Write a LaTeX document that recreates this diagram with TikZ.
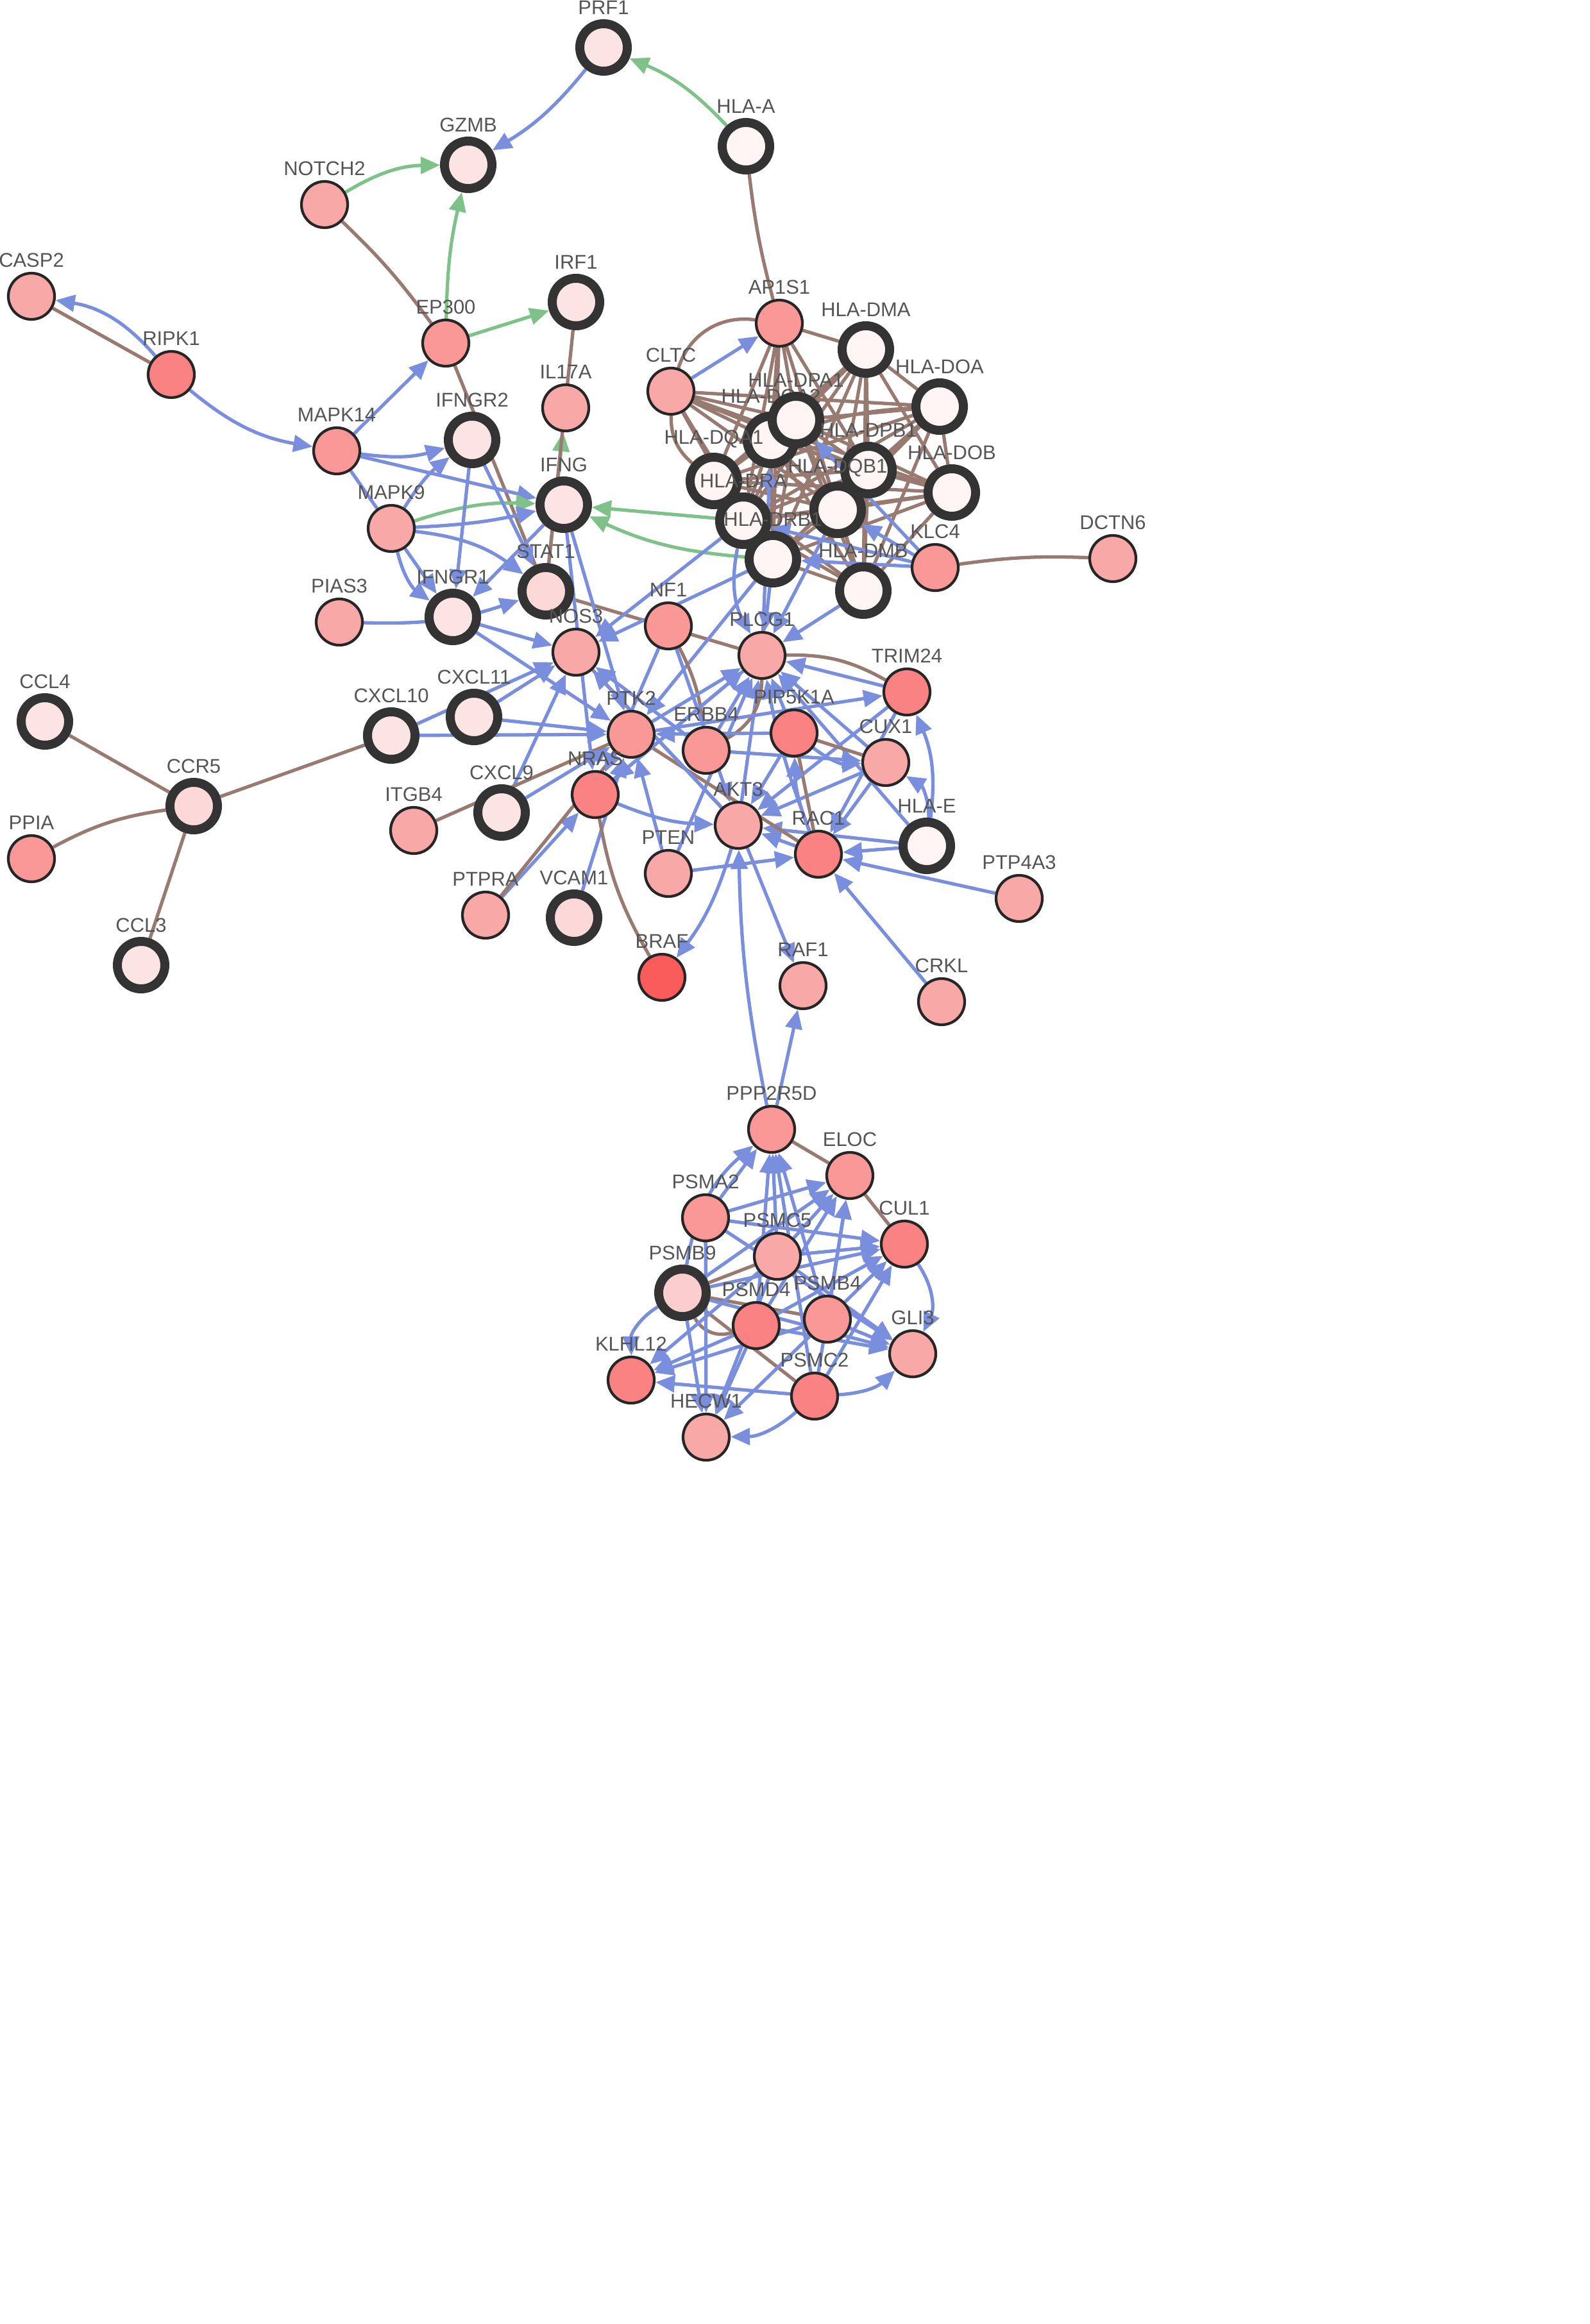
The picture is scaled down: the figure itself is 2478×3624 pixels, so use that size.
\documentclass[tikz,border=0pt]{standalone}
\usepackage{fontspec}
\setmainfont{Liberation Sans}
\usetikzlibrary{arrows.meta,backgrounds}

\definecolor{ringgray}{RGB}{51,51,51}
\definecolor{labgray}{RGB}{85,85,85}
\definecolor{edgeblue}{RGB}{122,142,222}
\definecolor{edgegreen}{RGB}{126,193,137}
\definecolor{edgebrown}{RGB}{152,122,112}
\definecolor{pinkA}{RGB}{249,168,168}
\definecolor{pinkB}{RGB}{250,152,152}
\definecolor{pinkC}{RGB}{250,130,130}
\definecolor{brafred}{RGB}{250,92,92}
\definecolor{paleA}{RGB}{253,228,228}
\definecolor{paleB}{RGB}{255,245,245}
\definecolor{paleC}{RGB}{253,216,216}
\definecolor{paleD}{RGB}{252,205,205}

\tikzset{
  gnode/.style={circle, draw=black!85, line width=1.2pt, minimum size=0.72cm, inner sep=0pt},
  rnode/.style={circle, draw=ringgray, line width=0.14cm, minimum size=0.74cm, inner sep=0pt},
  glab/.style={font=\fontsize{8.8}{9}\selectfont, text=labgray, inner sep=0pt},
  every label/.style={glab},
  blu/.style={draw=edgeblue, line width=1.5pt, -{Triangle[length=0.3cm,width=0.26cm]}},
  grn/.style={draw=edgegreen, line width=1.5pt, -{Triangle[length=0.3cm,width=0.26cm]}},
  brn/.style={draw=edgebrown, line width=1.5pt}
}

\begin{document}
\begin{tikzpicture}[x=0.01cm, y=-0.01cm, label distance=0.065cm]
\useasboundingbox (0,0) rectangle (2478,3624);

% upper part
\node[rnode, fill=paleA, label=above:PRF1] (prf1) at (941,74) {};
\node[rnode, fill=paleB, label=above:HLA-A] (hlaa) at (1163,228) {};
\node[rnode, fill=paleA, label=above:GZMB] (gzmb) at (730,257) {};
\node[gnode, fill=pinkA, label=above:NOTCH2] (notch2) at (506,319) {};
\node[gnode, fill=pinkA, label=above:CASP2] (casp2) at (49,462) {};
\node[rnode, fill=paleA, label=above:IRF1] (irf1) at (898,471) {};
\node[gnode, fill=pinkC, label=above:RIPK1] (ripk1) at (267,584) {};
\node[gnode, fill=pinkB, label=above:EP300] (ep300) at (695,535) {};
\node[gnode, fill=pinkB, label=above:AP1S1] (ap1s1) at (1215,504) {};
\node[rnode, fill=paleB, label=above:HLA-DMA] (hladma) at (1350,545) {};
\node[gnode, fill=pinkA, label=above:CLTC] (cltc) at (1046,610) {};
\node[rnode, fill=paleB, label=above:HLA-DOA] (hladoa) at (1465,634) {};
\node[gnode, fill=pinkA, label=above:IL17A] (il17a) at (882,636) {};
\node[gnode, fill=pinkB, label=above:MAPK14] (mapk14) at (525,703) {};
\node[rnode, fill=paleA, label=above:IFNGR2] (ifngr2) at (736,686) {};
\node[rnode, fill=paleA, label=above:IFNG] (ifng) at (879,787) {};
\node[gnode, fill=pinkA, label=above:MAPK9] (mapk9) at (610,824) {};

% HLA class II group
\node[rnode, fill=paleB, label=above:HLA-DQA2] (hladqa2) at (1202,686) {};
\node[rnode, fill=paleB, label=above:HLA-DPA1] (hladpa1) at (1241,655) {};
\node[rnode, fill=paleB, label=above:HLA-DPB1] (hladpb1) at (1354,733) {};
\node[rnode, fill=paleB, label=above:HLA-DQA1] (hladqa1) at (1113,750) {};
\node[rnode, fill=paleB, label=above:HLA-DRA] (hladra) at (1159,812) {};
\node[rnode, fill=paleB, label=above:HLA-DQB1] (hladqb1) at (1306,795) {};
\node[rnode, fill=paleB, label=above:HLA-DOB] (hladob) at (1484,768) {};
\node[rnode, fill=paleB, label=above:HLA-DRB1] (hladrb1) at (1205,872) {};
\node[rnode, fill=paleB, label=above:HLA-DMB] (hladmb) at (1346,921) {};
\node[gnode, fill=pinkB, label=above:KLC4] (klc4) at (1458,885) {};
\node[gnode, fill=pinkA, label=above:DCTN6] (dctn6) at (1735,871) {};

% middle part
\node[rnode, fill=paleC, label=above:STAT1] (stat1) at (851,922) {};
\node[rnode, fill=paleA, label=above:IFNGR1] (ifngr1) at (706,962) {};
\node[gnode, fill=pinkA, label=above:PIAS3] (pias3) at (529,970) {};
\node[gnode, fill=pinkA, label=above:NOS3] (nos3) at (898,1017) {};
\node[gnode, fill=pinkB, label=above:NF1] (nf1) at (1042,976) {};
\node[gnode, fill=pinkA, label=above:PLCG1] (plcg1) at (1188,1022) {};
\node[gnode, fill=pinkC, label=above:TRIM24] (trim24) at (1414,1079) {};
\node[rnode, fill=paleA, label=above:CCL4] (ccl4) at (70,1125) {};
\node[rnode, fill=paleA, label=above:CXCL10] (cxcl10) at (610,1147) {};
\node[rnode, fill=paleA, label=above:CXCL11] (cxcl11) at (739,1118) {};
\node[gnode, fill=pinkB, label=above:PTK2] (ptk2) at (984,1145) {};
\node[gnode, fill=pinkB, label=above:ERBB4] (erbb4) at (1101,1170) {};
\node[gnode, fill=pinkC, label=above:PIP5K1A] (pip5k1a) at (1238,1143) {};
\node[gnode, fill=pinkA, label=above:CUX1] (cux1) at (1381,1189) {};
\node[gnode, fill=pinkC, label=above:NRAS] (nras) at (928,1239) {};
\node[rnode, fill=paleA, label=above:CXCL9] (cxcl9) at (782,1267) {};
\node[gnode, fill=pinkA, label=above:ITGB4] (itgb4) at (645,1295) {};
\node[gnode, fill=pinkA, label=above:AKT3] (akt3) at (1151,1287) {};
\node[gnode, fill=pinkC, label=above:RAC1] (rac1) at (1276,1332) {};
\node[rnode, fill=paleB, label=above:HLA-E] (hlae) at (1445,1319) {};
\node[rnode, fill=paleC, label=above:CCR5] (ccr5) at (302,1257) {};
\node[gnode, fill=pinkB, label=above:PPIA] (ppia) at (49,1339) {};
\node[gnode, fill=pinkA, label=above:PTEN] (pten) at (1042,1362) {};
\node[gnode, fill=pinkA, label=above:PTP4A3] (ptp4a3) at (1589,1401) {};
\node[gnode, fill=pinkA, label=above:PTPRA] (ptpra) at (757,1427) {};
\node[rnode, fill=paleC, label=above:VCAM1] (vcam1) at (895,1431) {};
\node[rnode, fill=paleA, label=above:CCL3] (ccl3) at (220,1505) {};
\node[gnode, fill=brafred, label=above:BRAF] (braf) at (1032,1524) {};
\node[gnode, fill=pinkA, label=above:RAF1] (raf1) at (1252,1537) {};
\node[gnode, fill=pinkA, label=above:CRKL] (crkl) at (1468,1562) {};

% lower group
\node[gnode, fill=pinkB, label=above:PPP2R5D] (ppp2r5d) at (1203,1761) {};
\node[gnode, fill=pinkB, label=above:ELOC] (eloc) at (1325,1833) {};
\node[gnode, fill=pinkB, label=above:PSMA2] (psma2) at (1100,1899) {};
\node[gnode, fill=pinkC, label=above:CUL1] (cul1) at (1410,1940) {};
\node[gnode, fill=pinkA, label=above:PSMC5] (psmc5) at (1212,1959) {};
\node[rnode, fill=paleD, label=above:PSMB9] (psmb9) at (1064,2016) {};
\node[gnode, fill=pinkC, label=above:PSMD4] (psmd4) at (1179,2067) {};
\node[gnode, fill=pinkB, label=above:PSMB4] (psmb4) at (1290,2057) {};
\node[gnode, fill=pinkA, label=above:GLI3] (gli3) at (1423,2111) {};
\node[gnode, fill=pinkC, label=above:KLHL12] (klhl12) at (984,2152) {};
\node[gnode, fill=pinkC, label=above:PSMC2] (psmc2) at (1270,2177) {};
\node[gnode, fill=pinkA, label=above:HECW1] (hecw1) at (1101,2241) {};

\begin{scope}[on background layer]
% upper edges
\draw[blu] (prf1) to[bend left=10] (gzmb);
\draw[grn] (hlaa) to[bend right=12] (prf1);
\draw[grn] (notch2) to[bend left=15] (gzmb);
\draw[grn] (ep300) to[bend left=6] (gzmb);
\draw[grn] (ep300) -- (irf1);
\draw[brn] (notch2) to[bend left=5] (ep300);
\draw[brn] (ep300) -- (stat1);
\draw[brn] (hlaa) to[bend right=4] (ap1s1);
\draw[brn] (ripk1) -- (casp2);
\draw[blu] (ripk1) to[bend right=20] (casp2);
\draw[blu] (ripk1) to[bend right=15] (mapk14);
\draw[blu] (mapk14) -- (ep300);
\draw[blu] (mapk14) to[bend right=12] (ifngr2);
\draw[blu] (mapk14) -- (ifng);
\draw[blu] (mapk14) -- (ifngr1);
\draw[blu] (mapk9) to[bend left=10] (ifngr2);
\draw[grn] (mapk9) to[bend left=10] (ifng);
\draw[blu] (mapk9) to[bend right=5] (ifng);
\draw[blu] (mapk9) to[bend left=15] (stat1);
\draw[blu] (mapk9) to[bend right=20] (ifngr1);
\draw[blu] (ifngr2) -- (ifngr1);
\draw[blu] (ifngr2) -- (stat1);
\draw[blu] (ifng) -- (ifngr1);
\draw[grn] (stat1) -- (il17a);
\draw[brn] (irf1) -- (stat1);
\draw[blu] (pias3) to[bend right=10] (stat1);
\draw[grn] (hladra) -- (ifng);
\draw[grn] (hladrb1) to[bend left=10] (ifng);

% HLA class II group
\draw[brn] (hladma) -- (hladoa) (hladma) -- (hladpa1) (hladma) -- (hladqa2) (hladma) -- (hladpb1) (hladma) -- (hladqa1) (hladma) -- (hladra) (hladma) -- (hladqb1) (hladma) -- (hladob) (hladma) -- (hladrb1) (hladma) -- (hladmb);
\draw[brn] (hladoa) -- (hladpa1) (hladoa) to[bend right=8] (hladqa2) (hladoa) -- (hladpb1) (hladoa) -- (hladqa1) (hladoa) -- (hladra) (hladoa) -- (hladqb1) (hladoa) -- (hladob) (hladoa) -- (hladrb1) (hladoa) -- (hladmb);
\draw[brn] (hladpa1) -- (hladqa2) (hladpa1) -- (hladpb1) (hladpa1) -- (hladqa1) (hladpa1) -- (hladra) (hladpa1) -- (hladqb1) (hladpa1) -- (hladob) (hladpa1) -- (hladrb1) (hladpa1) -- (hladmb);
\draw[brn] (hladqa2) -- (hladpb1) (hladqa2) -- (hladqa1) (hladqa2) -- (hladra) (hladqa2) -- (hladqb1) (hladqa2) -- (hladob) (hladqa2) -- (hladrb1) (hladqa2) -- (hladmb);
\draw[brn] (hladpb1) -- (hladqa1) (hladpb1) -- (hladra) (hladpb1) -- (hladqb1) (hladpb1) -- (hladob) (hladpb1) -- (hladrb1) (hladpb1) -- (hladmb);
\draw[brn] (hladqa1) -- (hladra) (hladqa1) -- (hladqb1) (hladqa1) -- (hladob) (hladqa1) -- (hladrb1) (hladqa1) -- (hladmb);
\draw[brn] (hladra) -- (hladqb1) (hladra) -- (hladob) (hladra) -- (hladrb1) (hladra) -- (hladmb);
\draw[brn] (hladqb1) -- (hladob) (hladqb1) -- (hladrb1) (hladqb1) -- (hladmb);
\draw[brn] (hladob) -- (hladrb1) (hladob) -- (hladmb) (hladrb1) -- (hladmb);
\draw[brn] (ap1s1) -- (hladma) (ap1s1) -- (hladpa1) (ap1s1) -- (hladqa2) (ap1s1) -- (hladpb1) (ap1s1) -- (hladqa1) (ap1s1) -- (hladra) (ap1s1) -- (hladqb1) (ap1s1) -- (hladrb1) (ap1s1) -- (hladmb);
\draw[brn] (cltc) -- (hladpa1) (cltc) -- (hladqa2) (cltc) -- (hladpb1) (cltc) to[bend right=25] (hladqa1) (cltc) -- (hladra) (cltc) -- (hladqb1) (cltc) -- (hladrb1) (cltc) -- (hladob) (cltc) -- (hladoa);
\draw[brn] (cltc) to[bend left=40] (ap1s1);
\draw[blu] (cltc) -- (ap1s1);
\draw[brn] (klc4) to[bend left=5] (dctn6);
\draw[blu] (klc4) -- (hladrb1);
\draw[blu] (klc4) -- (hladpa1);
\draw[blu] (klc4) -- (hladqb1);
\draw[blu] (klc4) -- (hladra);
\draw[blu] (plcg1) -- (hladqa2);

% middle edges
\draw[blu] (ifngr1) -- (nos3);
\draw[blu] (ifngr1) -- (ptk2);
\draw[blu] (cxcl11) -- (nos3);
\draw[blu] (cxcl10) -- (nos3);
\draw[blu] (cxcl11) -- (ptk2);
\draw[blu] (cxcl10) -- (ptk2);
\draw[brn] (cxcl10) -- (ccr5);
\draw[brn] (ccl4) -- (ccr5);
\draw[brn] (ppia) to[bend left=10] (ccr5);
\draw[brn] (ccl3) -- (ccr5);
\draw[blu] (cxcl9) -- (nos3);
\draw[blu] (cxcl9) -- (ptk2);
\draw[brn] (itgb4) -- (ptk2);
\draw[blu] (ptpra) -- (nras);
\draw[brn] (ptpra) -- (ptk2);
\draw[blu] (vcam1) -- (ptk2);
\draw[brn] (nras) to[bend right=10] (braf);
\draw[blu] (akt3) to[bend left=10] (braf);
\draw[blu] (nras) to[bend right=10] (akt3);
\draw[brn] (stat1) -- (plcg1);
\draw[blu] (ifng) -- (ptk2);
\draw[blu] (ifng) -- (nras);
\draw[blu] (hladra) -- (nos3);
\draw[blu] (hladrb1) -- (nos3);
\draw[blu] (hladrb1) -- (ptk2);
\draw[brn] (nf1) to[bend left=10] (erbb4);
\draw[blu] (nf1) -- (nras);
\draw[blu] (nf1) -- (akt3);
\draw[blu] (ptk2) -- (plcg1);
\draw[blu] (erbb4) -- (plcg1);
\draw[blu] (akt3) -- (plcg1);
\draw[blu] (rac1) to[bend left=5] (plcg1);
\draw[blu] (pip5k1a) -- (plcg1);
\draw[blu] (cux1) -- (plcg1);
\draw[blu] (trim24) -- (plcg1);
\draw[blu] (nras) -- (plcg1);
\draw[blu] (pten) -- (plcg1);
\draw[blu] (hlae) -- (plcg1);
\draw[brn] (plcg1) to[bend left=15] (trim24);
\draw[brn] (plcg1) to[bend left=30] (erbb4);
\draw[blu] (hladrb1) -- (plcg1);
\draw[blu] (hladra) to[bend right=20] (plcg1);
\draw[blu] (hladqb1) -- (plcg1);
\draw[blu] (hladmb) -- (plcg1);
\draw[blu] (ptk2) -- (trim24);
\draw[blu] (erbb4) -- (cux1);
\draw[blu] (pip5k1a) to[bend right=20] (cux1);
\draw[blu] (pip5k1a) -- (ptk2);
\draw[blu] (cux1) -- (akt3);
\draw[blu] (cux1) -- (rac1);
\draw[blu] (trim24) -- (rac1);
\draw[blu] (trim24) -- (akt3);
\draw[blu] (hlae) to[bend right=15] (trim24);
\draw[blu] (hlae) to[bend right=30] (cux1);
\draw[blu] (hlae) -- (rac1);
\draw[blu] (hlae) -- (akt3);
\draw[blu] (ptp4a3) -- (rac1);
\draw[blu] (crkl) -- (rac1);
\draw[blu] (pten) -- (rac1);
\draw[blu] (pten) -- (ptk2);
\draw[blu] (akt3) -- (raf1);
\draw[blu] (ppp2r5d) to[bend left=5] (akt3);
\draw[blu] (ppp2r5d) -- (raf1);
\draw[brn] (pip5k1a) -- (rac1);
\draw[brn] (pip5k1a) -- (cux1);
\draw[brn] (ptk2) -- (rac1);
\draw[brn] (nos3) -- (akt3);
\draw[blu] (erbb4) -- (nos3);
\draw[blu] (akt3) -- (nos3);
\draw[blu] (rac1) -- (akt3);
\draw[blu] (pip5k1a) -- (akt3);
\draw[blu] (rac1) to[bend left=10] (pip5k1a);
\draw[blu] (plcg1) -- (nras);

% lower edges
\draw[brn] (ppp2r5d) -- (eloc);
\draw[brn] (eloc) -- (cul1);
\draw[brn] (psmb9) -- (psmc5);
\draw[brn] (psmb9) -- (psmb4);
\draw[brn] (psmb9) -- (psmc2);
\draw[brn] (psmb9) to[bend right=40] (psmd4);
\draw[blu] (psma2) -- (ppp2r5d);
\draw[blu] (psmb9) to[bend left=20] (ppp2r5d);
\draw[blu] (psmc5) -- (ppp2r5d);
\draw[blu] (psmd4) -- (ppp2r5d);
\draw[blu] (psmb4) -- (ppp2r5d);
\draw[blu] (psmc2) -- (ppp2r5d);
\draw[blu] (psma2) -- (eloc);
\draw[blu] (psmb9) -- (eloc);
\draw[blu] (psmc5) -- (eloc);
\draw[blu] (psmd4) -- (eloc);
\draw[blu] (psmb4) -- (eloc);
\draw[blu] (psmc2) -- (eloc);
\draw[blu] (psma2) -- (cul1);
\draw[blu] (psmb9) -- (cul1);
\draw[blu] (psmc5) -- (cul1);
\draw[blu] (psmd4) -- (cul1);
\draw[blu] (psmb4) -- (cul1);
\draw[blu] (psmc2) -- (cul1);
\draw[blu] (psma2) -- (gli3);
\draw[blu] (psmb9) -- (gli3);
\draw[blu] (psmc5) -- (gli3);
\draw[blu] (psmd4) -- (gli3);
\draw[blu] (psmb4) -- (gli3);
\draw[blu] (psmc2) to[bend right=20] (gli3);
\draw[blu] (cul1) to[bend left=30] (gli3);
\draw[blu] (psmb9) to[bend right=30] (klhl12);
\draw[blu] (psmc5) -- (klhl12);
\draw[blu] (psmd4) -- (klhl12);
\draw[blu] (psmb4) -- (klhl12);
\draw[blu] (psmc2) -- (klhl12);
\draw[blu] (psmb9) -- (hecw1);
\draw[blu] (psma2) -- (hecw1);
\draw[blu] (psmd4) -- (hecw1);
\draw[blu] (psmc5) -- (hecw1);
\draw[blu] (psmb4) -- (hecw1);
\draw[blu] (psmc2) to[bend left=20] (hecw1);
\end{scope}
\end{tikzpicture}
\end{document}
